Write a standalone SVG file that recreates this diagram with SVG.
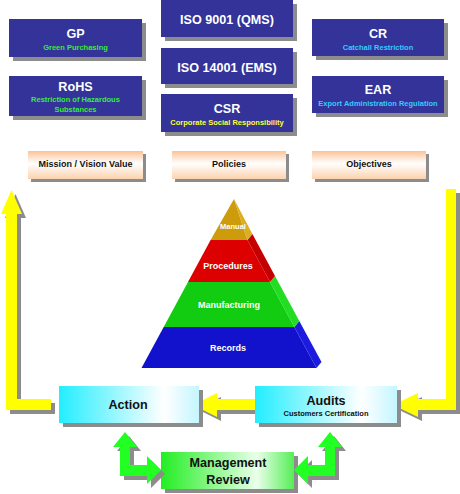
<svg xmlns="http://www.w3.org/2000/svg" xmlns:xlink="http://www.w3.org/1999/xlink" width="460" height="494" viewBox="0 0 460 494">
<defs>
<style>
text{font-family:"Liberation Sans",Arial,sans-serif;font-weight:bold;text-anchor:middle}
.shadow{fill:#8c8c8c}
.navy{fill:#333399}
.t13{font-size:12.6px;fill:#ffffff}
.sub{font-size:7.5px}
.green{fill:#33ee33}
.yellow{fill:#ffff33}
.cyan{fill:#33ccff}
.peach{fill:url(#gPeach)}
.ptext{font-size:9px;fill:#111111}
.cyanbox{fill:url(#gCyan)}
.greenbox{fill:url(#gGreen)}
.btext{font-size:12.6px;fill:#111111}
.ylw{fill:#ffff00}
.grn{fill:#22ff22}
.pyr{font-size:9px;fill:#ffffff}
</style>
<linearGradient id="gPeach" x1="0" y1="0" x2="0" y2="1">
<stop offset="0" stop-color="#fbc397"/>
<stop offset="0.45" stop-color="#ffffff"/>
<stop offset="1" stop-color="#fcd2ae"/>
</linearGradient>
<linearGradient id="gCyan" x1="0" y1="0" x2="1" y2="0">
<stop offset="0" stop-color="#22eeff"/>
<stop offset="0.75" stop-color="#ffffff"/>
<stop offset="1" stop-color="#c4f6ff"/>
</linearGradient>
<linearGradient id="gGreen" x1="0" y1="0" x2="1" y2="0">
<stop offset="0" stop-color="#22ee22"/>
<stop offset="0.72" stop-color="#eaffea"/>
<stop offset="1" stop-color="#55ee55"/>
</linearGradient>
<polygon id="yL" points="11.5,190 22,214 17,214 17,399 51,399 51,410 6,410 6,214 1,214"/>
<polygon id="yR" points="446,189 456,189 456,410 418,410 418,417 393,405 418,393 418,399 446,399"/>
<polygon id="yM" points="193,405 217,393 217,399 256,399 256,410 217,410 217,417"/>
<polygon id="gL" points="125,432 137,447 130,447 130,465 147,465 147,456 161,470 147,484 147,476 120,476 120,447 113,447"/>
<polygon id="gR" points="330,432 342,447 335,447 335,476 308,476 308,484 294,470 308,456 308,465 325,465 325,447 318,447"/>
</defs>

<rect width="460" height="494" fill="#ffffff"/>

<g id="connectors">
<use xlink:href="#yL" class="shadow" transform="translate(4,4)"/>
<use xlink:href="#yR" class="shadow" transform="translate(4,4)"/>
<use xlink:href="#yM" class="shadow" transform="translate(4,4)"/>
<use xlink:href="#yL" class="ylw"/>
<use xlink:href="#yR" class="ylw"/>
<use xlink:href="#yM" class="ylw"/>
</g>

<g id="gp">
<rect class="shadow" x="13" y="23" width="133" height="38"/>
<rect class="navy" x="9" y="19" width="133" height="38"/>
<text class="t13" x="75.5" y="37.5">GP</text>
<text class="sub green" x="75.5" y="49.5">Green Purchasing</text>
</g>
<g id="rohs">
<rect class="shadow" x="13" y="80" width="133" height="40"/>
<rect class="navy" x="9" y="76" width="133" height="40"/>
<text class="t13" x="75.5" y="90.5">RoHS</text>
<text class="sub green" x="75.5" y="101.5">Restriction of Hazardous</text>
<text class="sub green" x="75.5" y="111.5">Substances</text>
</g>
<g id="iso9001">
<rect class="shadow" x="165" y="4" width="132" height="37"/>
<rect class="navy" x="161" y="0" width="132" height="37"/>
<text class="t13" x="227" y="23.5">ISO 9001 (QMS)</text>
</g>
<g id="iso14001">
<rect class="shadow" x="165" y="52" width="132" height="36"/>
<rect class="navy" x="161" y="48" width="132" height="36"/>
<text class="t13" x="227" y="71.5">ISO 14001 (EMS)</text>
</g>
<g id="csr">
<rect class="shadow" x="165" y="98" width="132" height="38"/>
<rect class="navy" x="161" y="94" width="132" height="38"/>
<text class="t13" x="227" y="112.5">CSR</text>
<text class="sub yellow" x="227" y="124.5">Corporate Social Responsibility</text>
</g>
<g id="cr">
<rect class="shadow" x="316" y="23" width="132" height="37"/>
<rect class="navy" x="312" y="19" width="132" height="37"/>
<text class="t13" x="378" y="37.5">CR</text>
<text class="sub cyan" x="378" y="49.5">Catchall Restriction</text>
</g>
<g id="ear">
<rect class="shadow" x="316" y="80" width="132" height="37"/>
<rect class="navy" x="312" y="76" width="132" height="37"/>
<text class="t13" x="378" y="93.5">EAR</text>
<text class="sub cyan" x="378" y="105.5">Export Administration Regulation</text>
</g>

<g id="mission">
<rect class="shadow" x="31" y="154" width="115" height="28"/>
<rect class="peach" x="28" y="151" width="115" height="28"/>
<text class="ptext" x="85.5" y="167.2">Mission / Vision Value</text>
</g>
<g id="policies">
<rect class="shadow" x="175" y="154" width="114" height="28"/>
<rect class="peach" x="172" y="151" width="114" height="28"/>
<text class="ptext" x="229" y="167.2">Policies</text>
</g>
<g id="objectives">
<rect class="shadow" x="315" y="154" width="114" height="28"/>
<rect class="peach" x="312" y="151" width="114" height="28"/>
<text class="ptext" x="369" y="167.2">Objectives</text>
</g>

<g id="pyramid">
<g id="records">
<polygon fill="#1212cc" points="163.7,327 294.3,327 316.5,368 141.5,368"/>
<polygon fill="#1c1ce0" points="294.3,327 299.3,321 321.5,362 316.5,368"/>
<text class="pyr" x="228" y="351.2">Records</text>
</g>
<g id="manufacturing">
<polygon fill="#12cc12" points="188,282 270,282 294.3,327 163.7,327"/>
<polygon fill="#22dd22" points="270,282 275,276 299.3,321 294.3,327"/>
<text class="pyr" x="229" y="308.2">Manufacturing</text>
</g>
<g id="procedures">
<polygon fill="#dd0000" points="210.6,240 247.4,240 270,282 188,282"/>
<polygon fill="#c40000" points="247.4,240 252.4,234 275,276 270,282"/>
<text class="pyr" x="228" y="269.2">Procedures</text>
</g>
<g id="manual">
<polygon fill="#cc9c0c" points="234,199 247.4,240 210.6,240"/>
<polygon fill="#dcae22" points="234,199 252.4,234 247.4,240"/>
<text class="pyr" style="font-size:7.5px" x="233" y="228.7">Manual</text>
</g>
</g>

<g id="action">
<rect class="shadow" x="63" y="390" width="140" height="37"/>
<rect class="cyanbox" x="59" y="386" width="140" height="37"/>
<text class="btext" x="128" y="408.5">Action</text>
</g>
<g id="audits">
<rect class="shadow" x="259" y="390" width="142" height="37"/>
<rect class="cyanbox" x="255" y="386" width="142" height="37"/>
<text class="btext" x="326" y="404.5">Audits</text>
<text class="sub" style="fill:#111111" x="326" y="416">Customers Certification</text>
</g>
<g id="management">
<rect class="shadow" x="165" y="456" width="133" height="37"/>
<rect class="greenbox" x="161" y="452" width="133" height="37"/>
<text class="btext" x="228" y="466.5">Management</text>
<text class="btext" x="228" y="483.5">Review</text>
</g>

<g id="connectors-green">
<use xlink:href="#gL" class="shadow" transform="translate(4,4)"/>
<use xlink:href="#gR" class="shadow" transform="translate(4,4)"/>
<use xlink:href="#gL" class="grn"/>
<use xlink:href="#gR" class="grn"/>
</g>
</svg>
